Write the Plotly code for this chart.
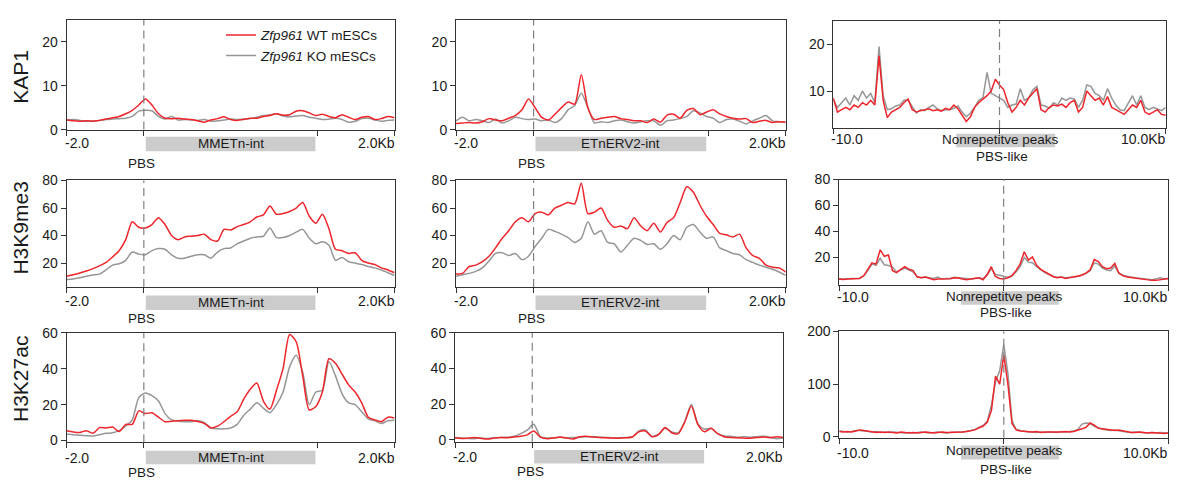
import numpy as np
import plotly.graph_objects as go

W, H = 1185, 490

# ---------------- data ----------------
# bin positions (kb) for repeat profiles: -2 .. PBS(0) .. scaled body end (4.5) .. +2 kb
X_REP = np.round(np.linspace(-2.0, 6.5, 51), 3)
# bin positions (kb) for nonrepetitive peaks: -10 .. +10 kb
X_NR = np.round(np.linspace(-10.0, 10.0, 81), 3)

ROW_LABELS = ["KAP1", "H3K9me3", "H3K27ac"]
REGION_LABELS = ["MMETn-int", "ETnERV2-int", "Nonrepetitve peaks"]
TICK_REP = ["-2.0", "2.0Kb"]
TICK_NR = ["-10.0", "10.0Kb"]
ANCHOR_REP = "PBS"
ANCHOR_NR = "PBS-like"
SERIES_NAMES = ["<i>Zfp961</i> WT mESCs", "<i>Zfp961</i> KO mESCs"]

KAP1_MMETN_WT = [2.2, 2.0, 1.9, 2.0, 1.9, 2.1, 2.4, 2.7, 3.0, 3.6, 4.4, 5.6, 7.0, 5.6, 3.6, 2.6, 2.5, 2.6, 2.4, 2.3,
                 2.0, 1.7, 2.2, 2.5, 2.9, 2.3, 2.1, 2.3, 2.6, 2.6, 3.0, 3.2, 3.6, 3.3, 3.4, 4.2, 4.3, 3.8, 3.2, 3.5,
                 3.0, 2.7, 3.4, 2.8, 2.3, 2.8, 3.0, 2.3, 2.5, 3.0, 2.7]
KAP1_MMETN_KO = [2.2, 2.3, 2.1, 1.9, 2.0, 2.1, 2.3, 2.4, 2.5, 2.6, 3.0, 4.2, 4.4, 4.3, 3.0, 2.4, 3.0, 2.2, 2.3, 2.2,
                 2.1, 2.3, 1.9, 2.0, 2.2, 2.4, 2.3, 2.4, 2.5, 2.8, 3.2, 3.4, 3.6, 3.1, 2.9, 3.1, 3.2, 2.8, 2.6, 2.3,
                 2.4, 2.6, 2.3, 1.7, 1.9, 2.5, 2.6, 2.2, 1.9, 2.1, 2.2]
KAP1_ETN_WT = [1.4, 1.5, 1.6, 1.5, 1.8, 2.5, 2.2, 2.0, 2.6, 3.2, 4.5, 7.0, 5.0, 2.8, 2.2, 3.5, 5.0, 6.3, 5.8, 12.5,
               5.0, 2.3, 2.6, 2.8, 3.0, 2.5, 2.3, 2.0, 2.0, 1.6, 2.4, 1.7, 3.3, 3.5, 2.6, 4.4, 4.8, 3.4, 4.0, 4.5,
               3.6, 3.0, 2.6, 2.4, 2.5, 1.6, 1.9, 2.1, 1.6, 1.8, 1.7]
KAP1_ETN_KO = [2.0, 2.8, 2.0, 2.3, 2.0, 1.6, 2.4, 1.5, 2.0, 2.8, 2.5, 2.3, 2.4, 2.0, 2.2, 1.6, 2.5, 4.5, 5.5, 8.3,
               5.0, 1.5, 1.8, 1.6, 2.0, 2.2, 1.8, 1.5, 1.8, 2.0, 2.0, 1.0, 2.0, 2.2, 2.5, 3.0, 4.3, 3.8, 3.0, 2.6,
               1.6, 2.3, 2.4, 1.9, 1.3, 2.0, 2.6, 3.2, 2.0, 1.8, 1.7]
KAP1_NR_WT = [8.5, 5.5, 6.0, 6.5, 6.0, 7.0, 6.5, 7.5, 7.0, 8.0, 7.0, 17.5,
              8.0, 4.3, 5.5, 6.0, 6.5, 7.5, 8.3, 6.0, 5.5,
              5.8, 6.0, 6.2, 5.8, 6.0, 5.7, 6.3, 6.0, 7.0, 6.2,
              4.8, 3.5, 4.5, 6.5, 7.5, 8.2, 9.0, 10.0, 12.5, 11.3,
              10.3, 7.5, 5.5, 6.5, 8.0, 7.0, 8.5, 9.5, 10.5, 6.0,
              5.5, 6.5, 7.0, 6.8, 7.2, 6.5, 7.5, 8.0, 5.5, 6.5,
              10.0, 9.0, 8.0, 8.5, 7.0, 8.8, 6.5, 6.0, 5.5, 5.0,
              6.0, 7.0, 6.5, 8.0, 5.5, 5.0, 5.5, 6.0, 5.0, 4.8]
KAP1_NR_KO = [8.0, 6.5, 7.5, 8.5, 7.0, 9.0, 8.0, 10.0, 8.5, 9.5, 7.5, 19.5,
              9.0, 6.0, 6.2, 6.8, 7.0, 8.0, 8.0, 6.5, 5.3,
              6.0, 5.8, 6.5, 7.0, 6.2, 5.8, 6.0, 6.0, 6.3, 6.8,
              5.5, 4.5, 5.3, 6.5, 8.0, 8.5, 14.0, 9.5, 9.0, 8.5,
              8.0, 6.5, 7.0, 7.2, 10.5, 8.0, 8.5, 10.2, 11.0, 7.0,
              6.8, 6.3, 7.5, 7.0, 8.5, 8.0, 8.5, 8.3, 6.5, 8.0,
              11.3, 11.0, 9.5, 9.0, 8.0, 10.5, 8.5, 7.0, 6.0, 5.8,
              7.5, 9.0, 7.0, 9.0, 6.5, 6.0, 6.5, 6.2, 5.8, 6.5]

K9_MMETN_WT = [10.4, 11.5, 12.8, 14.3, 16.0, 18.0, 20.5, 24.5, 29.0, 37.0, 50.0, 46.0, 45.5, 48.0, 53.0, 48.0, 40.0,
               37.0, 39.0, 39.5, 40.0, 41.0, 37.0, 36.0, 44.5, 44.0, 46.5, 48.0, 50.0, 53.5, 55.0, 61.5, 55.5, 56.0,
               57.5, 60.0, 64.0, 54.0, 49.0, 55.5, 45.0, 30.0, 29.0, 27.0, 27.5, 22.0, 20.0, 19.0, 16.5, 15.0, 13.0]
K9_MMETN_KO = [8.0, 8.5, 9.3, 10.5, 11.3, 12.0, 15.0, 18.5, 19.5, 22.0, 28.0, 26.5, 26.0, 29.0, 30.5, 30.0, 26.0,
               23.5, 23.5, 25.0, 26.0, 26.0, 23.5, 28.0, 30.5, 31.0, 34.0, 36.0, 38.0, 39.0, 39.5, 45.5, 38.5, 38.5,
               40.0, 42.5, 44.5, 38.0, 34.0, 35.5, 33.0, 22.0, 24.0, 21.0, 20.0, 19.0, 17.5, 16.5, 15.0, 13.0, 11.0]
K9_ETN_WT = [12.0, 12.5, 17.5, 18.5, 21.0, 25.0, 31.0, 38.0, 43.5, 50.0, 53.0, 50.0, 56.0, 57.0, 55.0, 60.0, 62.0,
             64.0, 63.0, 78.0, 56.0, 57.0, 60.0, 51.0, 46.0, 47.0, 45.0, 53.0, 47.0, 43.5, 49.0, 42.5, 49.5, 53.0,
             64.0, 75.5, 71.5, 62.0, 54.0, 48.0, 41.5, 40.5, 39.0, 41.0, 31.0, 25.5, 23.5, 18.5, 17.0, 16.5, 13.5]
K9_ETN_KO = [10.4, 11.5, 12.5, 14.0, 16.5, 21.5, 27.0, 27.5, 25.5, 27.0, 22.5, 25.0, 32.0, 38.0, 44.5, 43.0, 41.0,
             38.5, 35.0, 38.0, 50.0, 41.0, 43.5, 35.0, 34.0, 28.0, 33.0, 38.0, 36.5, 33.5, 34.0, 30.0, 34.0, 40.0,
             37.0, 46.0, 48.0, 42.5, 38.0, 39.0, 31.0, 29.0, 27.0, 26.0, 22.5, 20.5, 18.5, 17.0, 15.5, 13.5, 11.0]
K9_NR_WT = [3.5, 3.2, 3.6, 3.8, 3.5, 4.0, 6.0, 11.0, 16.0, 15.0,
            26.0, 21.0, 22.0, 10.0, 8.5, 11.0, 13.0, 11.0, 10.0, 5.0,
            4.5, 5.0, 4.0, 3.0, 3.5, 3.5, 4.0, 3.8, 4.5, 4.3,
            3.5, 3.0, 3.5, 4.0, 4.5, 3.0, 7.0, 13.0, 5.5, 4.0,
            3.5, 4.5, 6.0, 10.0, 15.0, 24.5, 18.0, 20.5, 14.0, 11.0,
            9.0, 7.0, 5.5, 4.5, 5.0, 4.0, 4.5, 5.0, 5.5, 6.5,
            8.0, 10.5, 18.5, 17.0, 13.0, 11.5, 12.0, 15.5, 8.0, 6.0,
            5.0, 4.5, 4.0, 3.5, 3.0, 3.0, 2.5, 2.5, 3.0, 3.5, 4.0]
K9_NR_KO = [3.8, 3.5, 3.8, 4.0, 3.8, 4.2, 6.0, 10.0, 15.0, 14.0,
            19.5, 14.5, 14.0, 12.5, 9.0, 10.5, 12.0, 10.5, 9.0, 5.5,
            4.5, 5.0, 4.5, 4.0, 5.0, 3.5, 4.0, 4.0, 4.8, 4.5,
            3.8, 3.5, 3.5, 4.0, 4.5, 3.8, 6.5, 11.5, 7.0, 6.5,
            5.5, 5.0, 6.0, 9.0, 13.0, 20.0, 16.5, 16.0, 13.0, 10.5,
            8.5, 7.0, 5.5, 4.8, 5.0, 4.5, 4.5, 5.0, 5.5, 6.5,
            8.0, 10.0, 16.0, 15.0, 12.0, 10.5, 10.0, 13.5, 8.0, 6.5,
            5.5, 5.0, 4.5, 4.0, 3.5, 3.0, 3.0, 3.5, 4.5, 3.5, 4.0]

K27_MMETN_WT = [5.5, 4.8, 4.5, 5.5, 4.0, 7.2, 7.0, 7.5, 5.0, 9.0, 9.0, 16.5, 15.0, 15.5, 13.0, 10.5, 10.8, 11.0,
                11.3, 11.3, 10.6, 9.5, 7.0, 8.0, 10.5, 13.5, 16.0, 23.0, 28.5, 32.0, 22.0, 17.5, 28.0, 40.0, 59.0,
                55.0, 36.0, 17.0, 19.0, 27.0, 45.5, 43.0, 37.0, 31.0, 27.0, 21.0, 13.0, 11.5, 10.5, 13.0, 12.5]
K27_MMETN_KO = [3.6, 3.2, 3.0, 2.7, 2.5, 3.2, 4.0, 4.3, 5.5, 8.0, 11.5, 24.0, 26.5, 25.0, 22.0, 15.0, 11.5, 10.8,
                10.5, 10.5, 11.0, 10.0, 7.0, 6.5, 6.5, 7.0, 9.0, 14.0, 17.5, 21.0, 18.0, 15.5, 20.0, 27.0, 41.0,
                47.5, 38.0, 20.0, 27.0, 28.0, 44.0, 36.0, 26.0, 21.0, 20.0, 16.0, 12.0, 11.0, 9.5, 11.0, 11.3]
K27_ETN_WT = [1.0, 0.8, 1.0, 1.3, 0.8, 0.5, 1.0, 1.3, 1.2, 1.6, 2.0, 2.8, 5.0, 1.5, 0.7, 1.0, 1.6, 1.0, 0.5, 1.8,
              2.0, 1.6, 1.3, 1.2, 1.0, 0.9, 1.2, 1.6, 4.5, 5.0, 1.8, 3.0, 7.0, 4.0, 3.5, 10.0, 19.0, 8.5, 4.5, 6.5,
              3.5, 1.8, 1.3, 1.2, 1.0, 0.9, 1.3, 1.6, 1.2, 1.8, 1.3]
K27_ETN_KO = [1.3, 1.0, 0.8, 0.7, 1.0, 0.8, 1.2, 1.4, 1.5, 2.0, 3.5, 5.5, 8.8, 1.8, 1.0, 1.2, 1.5, 1.2, 1.3, 1.5,
              1.8, 1.7, 1.5, 1.4, 1.2, 1.2, 1.3, 1.6, 5.0, 5.5, 2.0, 3.0, 6.5, 4.5, 4.0, 10.5, 20.0, 9.0, 6.0, 6.5,
              3.5, 2.2, 2.0, 1.5, 1.8, 1.5, 1.8, 2.0, 1.5, 0.7, 1.2]
K27_NR_WT = [10, 9, 10, 9, 11, 13, 12, 11, 10, 8,
             9, 8, 9, 8, 7, 9, 8, 7, 8, 7,
             8, 9, 8, 7, 8, 9, 8, 8, 9, 8,
             9, 10, 11, 13, 17, 20, 28, 50, 115, 100,
             155, 100, 25, 13, 11, 10, 10, 9, 10, 8,
             9, 9, 8, 8, 9, 10, 9, 10, 12, 15,
             18, 26, 22, 16, 15, 14, 13, 12, 13, 11,
             9, 8, 8, 9, 8, 7, 8, 7, 7, 6, 7]
K27_NR_KO = [11, 10, 9, 10, 12, 12, 11, 10, 9, 10,
             8, 9, 8, 9, 8, 8, 7, 8, 7, 8,
             9, 8, 7, 8, 9, 8, 7, 8, 9, 9,
             9, 10, 12, 14, 18, 22, 30, 60, 105, 125,
             175, 120, 30, 14, 12, 10, 9, 9, 8, 9,
             8, 9, 9, 8, 10, 9, 10, 11, 14, 24,
             26, 25, 20, 17, 14, 13, 12, 13, 11, 10,
             9, 8, 9, 8, 8, 7, 8, 7, 8, 7, 7]

SERIES = [
    [(KAP1_MMETN_WT, KAP1_MMETN_KO), (KAP1_ETN_WT, KAP1_ETN_KO), (KAP1_NR_WT, KAP1_NR_KO)],
    [(K9_MMETN_WT, K9_MMETN_KO), (K9_ETN_WT, K9_ETN_KO), (K9_NR_WT, K9_NR_KO)],
    [(K27_MMETN_WT, K27_MMETN_KO), (K27_ETN_WT, K27_ETN_KO), (K27_NR_WT, K27_NR_KO)],
]
Y_RANGES = [
    [(0, 25), (0, 25), (2.1, 25)],
    [(2.7, 80), (2.7, 80), (-0.8, 80)],
    [(-1, 60), (-1, 60), (-2, 200)],
]
Y_TICKS = [
    [[0, 10, 20], [0, 10, 20], [10, 20]],
    [[20, 40, 60, 80], [20, 40, 60, 80], [20, 40, 60, 80]],
    [[0, 20, 40, 60], [0, 20, 40, 60], [0, 100, 200]],
]

# ---------------- layout geometry (pixels) ----------------
PANEL_PX = {  # left, right, top, bottom
    (0, 0): (66.7, 394.5, 12.3, 125.7), (0, 1): (456, 785.7, 12.3, 125.7), (0, 2): (833.3, 1165.7, 13.3, 124),
    (1, 0): (66.7, 394.5, 178.3, 288.3), (1, 1): (456, 785.7, 178.3, 288.3), (1, 2): (839, 1168.3, 177.3, 286),
    (2, 0): (66.7, 394.5, 335.7, 449), (2, 1): (455, 783.3, 335.7, 448.3), (2, 2): (839.3, 1168.3, 334.3, 444.3),
}
# offsets below the axis: tick-label, bar top, bar bottom, region text, anchor label
OFF_REP = [(14, 7.3, 22.3, 14.8, 35), (14.4, 9, 24, 16.5, 33), (16, 8.7, 22.7, 15.7, 31)]
OFF_NR = [(11, 6, 20, 11.5, 29), (12.3, 6.7, 20.7, 12.5, 29), (15.5, 8, 22.4, 13.4, 32.4)]
ROW_TITLE_Y = [71, 228, 383.5]

RED = "rgb(238,38,44)"
GRAY = "rgb(150,150,150)"
FONT = "Liberation Sans, Arial, sans-serif"
TXT = "#1a1a1a"


def py(p):
    return 1 - p / H


fig = go.Figure()
layout = dict(
    width=W, height=H, margin=dict(l=0, r=0, t=0, b=0),
    paper_bgcolor="white", plot_bgcolor="white",
    font=dict(family=FONT, size=14, color=TXT),
    showlegend=True,
    legend=dict(x=221 / W, y=py(12), xanchor="left", yanchor="top", bgcolor="rgba(0,0,0,0)",
                font=dict(size=13.5, color=TXT), itemwidth=30, tracegroupgap=0),
)
shapes, annotations = [], []

for r in range(3):
    for c in range(3):
        n = r * 3 + c + 1
        sfx = "" if n == 1 else str(n)
        L, R, T, B = PANEL_PX[(r, c)]
        xs = X_NR if c == 2 else X_REP
        wt, ko = SERIES[r][c]
        shape = "linear" if c == 2 else "spline"
        for vals, col, name, rank in ((ko, GRAY, SERIES_NAMES[1], 2), (wt, RED, SERIES_NAMES[0], 1)):
            fig.add_trace(go.Scatter(
                x=xs, y=vals, mode="lines", name=name, legendrank=rank,
                line=dict(color=col, width=1.5, shape=shape, smoothing=0.7 if shape == "spline" else None),
                showlegend=(n == 1), xaxis="x" + sfx, yaxis="y" + sfx, hoverinfo="skip"))
        xr = (-10, 10) if c == 2 else (-2.0, 6.5)
        xt = [-10, 0, 10] if c == 2 else [-2.0, 0, 4.5, 6.5]
        layout["xaxis" + sfx] = dict(
            domain=[L / W, R / W], range=list(xr), anchor="y" + sfx, tickvals=xt, showticklabels=False,
            ticks="outside", ticklen=5, tickcolor="#333", showline=True, mirror=True, linecolor="#333",
            linewidth=1, showgrid=False, zeroline=False, fixedrange=True)
        layout["yaxis" + sfx] = dict(
            domain=[py(B), py(T)], range=list(Y_RANGES[r][c]), anchor="x" + sfx, tickvals=Y_TICKS[r][c],
            ticks="outside", ticklen=5, tickcolor="#333", showline=True, mirror=True, linecolor="#333",
            linewidth=1, showgrid=False, zeroline=False, tickfont=dict(size=14, color=TXT), fixedrange=True)
        # dashed anchor line
        shapes.append(dict(type="line", xref="x" + sfx, yref="y" + sfx + " domain", x0=0, x1=0, y0=0, y1=1,
                           line=dict(color="#808080", width=1.2, dash="8px,5px")))
        if c < 2:
            o_tick, o_b0, o_b1, o_txt, o_anc = OFF_REP[r]
            bar = (0.05, 4.45)
            left_lab, right_lab = TICK_REP
            anc_lab, anc_x = ANCHOR_REP, -0.05
            reg_x = 2.25
        else:
            o_tick, o_b0, o_b1, o_txt, o_anc = OFF_NR[r]
            bar = (-2.6, 3.35)
            left_lab, right_lab = TICK_NR
            anc_lab, anc_x = ANCHOR_NR, 0.15
            reg_x = 0.05
        shapes.append(dict(type="rect", xref="x" + sfx, yref="paper", x0=bar[0], x1=bar[1],
                           y0=py(B + o_b1), y1=py(B + o_b0), line=dict(width=0), fillcolor="#cccccc",
                           layer="below"))
        annotations += [
            dict(text=left_lab, x=xr[0], xref="x" + sfx, y=py(B + o_tick), yref="paper", xanchor="left",
                 yanchor="middle", xshift=-4, showarrow=False, font=dict(size=14)),
            dict(text=right_lab, x=xr[1], xref="x" + sfx, y=py(B + o_tick), yref="paper", xanchor="right",
                 yanchor="middle", xshift=2, showarrow=False, font=dict(size=14)),
            dict(text=REGION_LABELS[c], x=reg_x, xref="x" + sfx, y=py(B + o_txt), yref="paper",
                 xanchor="center", yanchor="middle", showarrow=False, font=dict(size=13.5)),
            dict(text=anc_lab, x=anc_x, xref="x" + sfx, y=py(B + o_anc), yref="paper", xanchor="center",
                 yanchor="middle", showarrow=False, font=dict(size=13.5)),
        ]
    annotations.append(dict(text=ROW_LABELS[r], x=21 / W, y=py(ROW_TITLE_Y[r]), xref="paper", yref="paper",
                            textangle=-90, xanchor="center", yanchor="middle", showarrow=False,
                            font=dict(size=21)))

layout["shapes"] = shapes
layout["annotations"] = annotations
fig.update_layout(**layout)
fig.write_html("out.html", config=dict(displayModeBar=False),
               post_script="document.body.style.margin='0';document.body.style.overflow='hidden';")
